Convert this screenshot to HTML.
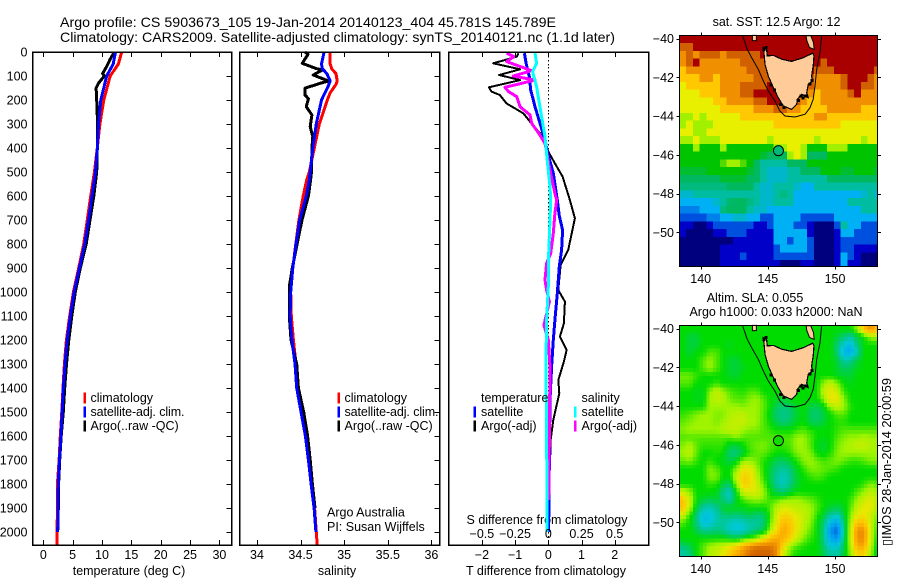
<!DOCTYPE html>
<html>
<head>
<meta charset="utf-8">
<title>Argo profile</title>
<style>
html,body{margin:0;padding:0;background:#fff;}
svg{display:block;}
text{font-family:"Liberation Sans",Arial,sans-serif;font-size:12.5px;fill:#000;}
.f{fill:none;stroke:#000;stroke-width:1.5;shape-rendering:crispEdges;}
.tk{stroke:#000;stroke-width:1;shape-rendering:crispEdges;}
</style>
</head>
<body>
<svg id="fig" xmlns="http://www.w3.org/2000/svg" width="900" height="580" viewBox="0 0 900 580">
<text x="60" y="27" style="font-size:14px" textLength="496" lengthAdjust="spacingAndGlyphs">Argo profile: CS 5903673_105 19-Jan-2014 20140123_404 45.781S 145.789E</text>
<text x="60" y="42" style="font-size:14px" textLength="555" lengthAdjust="spacingAndGlyphs">Climatology: CARS2009. Satellite-adjusted climatology: synTS_20140121.nc (1.1d later)</text>
<text x="129" y="575" text-anchor="middle">temperature (deg C)</text>
<text x="337" y="575" text-anchor="middle">salinity</text>
<text x="546" y="575" text-anchor="middle">T difference from climatology</text>
<text x="547" y="524" text-anchor="middle">S difference from climatology</text>
<text x="327" y="516.5">Argo Australia</text>
<text x="327" y="531">PI: Susan Wijffels</text>
<text x="776.5" y="26" text-anchor="middle">sat. SST: 12.5 Argo: 12</text>
<text x="755" y="302" text-anchor="middle">Altim. SLA: 0.055</text>
<text x="776" y="316" text-anchor="middle">Argo h1000: 0.033 h2000: NaN</text>
<text transform="translate(891,546) rotate(-90)" textLength="168" lengthAdjust="spacingAndGlyphs">▯IMOS 28-Jan-2014 20:00:59</text>
</svg>
<script>
/* ---------- depth-profile data ---------- */
const tClimDepth = [0,50,100,200,300,400,500,600,700,800,900,1000,1100,1200,1300,1400,1500,1600,1700,1800,1900,2000,2054];
const tClimVal = [13.35,12.8,11.4,10.3,9.65,9.2,8.7,8.07,7.5,6.88,6.03,5.12,4.49,3.93,3.59,3.35,3.15,2.9,2.7,2.4,2.45,2.3,2.3];
const tSatDepth = [0,50,100,200,300,400,500,600,700,800,900,1000,1100,1200,1300,1400,1500,1600,1700,1800,1900,2000];
const tSatVal = [12.3,11.9,10.8,9.8,9.4,9.2,8.9,8.3,7.7,7.05,6.15,5.25,4.6,4.05,3.7,3.4,3.2,3.0,2.75,2.55,2.5,2.45];
const tArgoDepth = [0,30,60,90,100,130,150,200,300,400,500,600,700,800,900,1000,1100,1200,1300,1400,1500,1600,1700,1800,1900,2000];
const tArgoVal = [12.1,11.4,10.8,10.1,10.4,9.4,9.0,9.1,9.25,9.2,9.1,8.6,7.95,7.3,6.3,5.45,4.85,4.35,3.95,3.65,3.4,3.05,2.8,2.6,2.55,2.45];

const sClimDepth = [0,50,70,90,120,135,170,200,250,300,400,500,533,600,700,800,900,1000,1100,1200,1300,1400,1500,1600,1700,1800,1900,2000,2054];
const sClimVal = [34.84,34.84,34.857,34.906,34.92,34.906,34.84,34.806,34.76,34.715,34.657,34.6,34.57,34.53,34.48,34.445,34.41,34.386,34.393,34.417,34.447,34.46,34.51,34.56,34.59,34.62,34.66,34.68,34.69];
const sSatDepth = [0,50,70,90,120,140,200,300,400,500,533,600,700,800,900,1000,1100,1200,1300,1400,1500,1600,1700,1800,1900,2000];
const sSatVal = [34.77,34.74,34.75,34.8,34.84,34.82,34.74,34.68,34.64,34.61,34.6,34.565,34.49,34.447,34.41,34.386,34.38,34.4,34.436,34.455,34.505,34.555,34.59,34.62,34.655,34.675];
const sArgoDepth = [0,10,47,69,75,96,121,131,151,179,194,228,262,311,353,400,500,533,600,700,800,900,978,1100,1200,1300,1400,1500,1600,1700,1800,1900];
const sArgoVal = [34.55,34.585,34.52,34.68,34.75,34.645,34.82,34.72,34.55,34.55,34.59,34.565,34.63,34.61,34.64,34.63,34.625,34.615,34.59,34.516,34.46,34.405,34.37,34.37,34.39,34.455,34.475,34.535,34.58,34.61,34.635,34.665];

const dtSatDepth = [5,47,103,158,228,297,367,415,505,617,683,742,825,894,1006,1117,1200,1311,1450,1728,2000];
const dtSatVal = [-0.72,-0.67,-0.57,-0.53,-0.4,-0.25,-0.1,-0.03,0.15,0.27,0.33,0.43,0.4,0.33,0.27,0.2,0.15,0.1,0.05,0.03,0.01];
const dtArgoDepth = [5,19,47,72,96,117,147,165,179,214,256,290,339,387,415,464,519,617,693,825,888,992,1040,1131,1186,1242,1290,1367,1422,1533,1617,1728];
const dtArgoVal = [-0.9,-0.95,-1.66,-0.85,-1.48,-0.85,-1.79,-1.71,-1.46,-1.26,-0.75,-0.55,-0.25,-0.07,0,0.2,0.43,0.65,0.8,0.6,0.37,0.3,0.5,0.47,0.35,0.55,0.47,0.3,0.33,0.15,0.07,0.05];
const dsSatDepth = [5,47,82,144,228,353,450,561,617,700,839,978,1117,1311,1589,2000];
const dsSatVal = [-0.1,-0.088,-0.118,-0.088,-0.063,-0.025,-0.008,0.0125,0.018,0.0125,0.003,0,-0.0125,-0.018,-0.0125,-0.008];
const dsArgoDepth = [5,19,40,78,100,117,147,165,186,228,262,297,346,381,492,589,617,672,755,839,880,950,992,1040,1103,1138,1200,1311,1589,1867];
const dsArgoVal = [-0.314,-0.259,-0.314,-0.125,-0.264,-0.1,-0.326,-0.3,-0.238,-0.213,-0.138,-0.125,-0.063,-0.025,0.0125,0.05,0.063,0.05,0.038,0.018,-0.0125,-0.025,-0.0125,0.008,-0.018,-0.033,0,0.0125,0.008,0.003];

/* ---------- tick labels ---------- */
const depthTicks = [0,100,200,300,400,500,600,700,800,900,1000,1100,1200,1300,1400,1500,1600,1700,1800,1900,2000];
const tempTicks = [0,5,10,15,20,25,30];
const salTicks = [34,34.5,35,35.5,36];
const dtTicks = [-2,-1,0,1,2];
const dsTicks = [-0.5,-0.25,0,0.25,0.5];
const lonTicks = [140,145,150];
const latTicks = [-40,-42,-44,-46,-48,-50];

/* ---------- map data: colour level per 0.5 x 0.4 deg cell, north to south ---------- */
const sstGrid = [
[12,12,12,12,12,12,12,12,12,12,12,12,12,12,12,12,12,12,12,12,12,12,12,12,12,12,12,12,12,12],
[11,11,12,12,12,12,12,12,12,12,12,12,12,12,12,12,12,12,12,12,12,12,12,12,12,12,12,12,12,12],
[10,11,10,11,11,11,10,11,11,11,11,11,12,12,12,12,12,12,12,12,12,12,12,12,12,12,12,12,12,12],
[10,11,12,10,10,10,10,10,10,11,11,11,11,12,12,12,12,12,12,12,12,11,12,12,12,12,12,12,12,12],
[9,10,10,10,10,10,10,10,10,10,11,11,11,11,12,12,12,12,12,12,11,11,11,12,12,12,12,12,12,11],
[9,9,9,10,10,9,10,10,10,10,10,11,11,11,12,12,12,12,12,11,10,10,10,10,11,12,12,12,11,10],
[8,9,9,9,9,9,10,10,10,11,11,11,11,12,12,12,12,12,11,11,10,10,10,10,11,12,12,11,11,10],
[8,8,8,9,9,9,10,10,10,11,11,12,12,12,12,12,12,12,11,10,9,10,10,10,10,11,12,10,10,10],
[8,8,8,8,8,9,9,10,10,10,10,11,11,12,12,12,12,11,10,9,9,10,10,10,10,10,10,10,10,10],
[8,8,8,8,8,8,9,9,9,9,9,10,10,10,11,11,10,10,9,9,9,9,10,10,10,10,10,9,9,9],
[7,7,8,7,8,8,8,8,8,9,9,9,9,9,9,9,9,9,9,9,10,10,9,9,9,9,9,9,9,9],
[7,8,7,7,7,8,8,8,8,8,8,8,8,8,9,9,9,9,9,9,9,9,9,9,8,8,8,8,8,8],
[8,8,7,7,8,8,8,8,8,8,8,8,8,8,8,8,8,8,8,8,8,8,8,8,8,8,8,8,8,8],
[7,7,8,7,7,7,8,8,8,8,8,8,8,7,8,8,8,8,8,8,7,8,8,8,8,8,8,7,8,8],
[6,6,7,6,6,6,7,6,6,6,6,6,6,6,7,7,8,8,7,6,6,6,7,7,7,6,6,6,6,6],
[6,6,6,6,6,6,6,6,6,6,6,6,5.5,5,5,5,7,8,7,5,5,5,6,6,6,6,6,6,6,6],
[6,6,6,6,6,6,6.5,7,7,6.5,6,5,4,4,4,4,5,5,5,6,6,6,6,6,6,6,6,6,6,6],
[5.5,5.5,5.5,5.5,6,6,6,6,6,6,5.5,5,4,3.5,3.5,3.5,4,4,5,5,5,6,6,6,5.5,5.5,6,6,6,5.5],
[5,5,5,5,5,5,5.5,5.5,5.5,5.5,5,5,4,3.5,3.5,3.5,4,4,4,4,4,4,5,5,5,5,5,5,5,5],
[4.5,4.5,4.5,4.5,4.5,4.5,4.5,5,5,5,5,4,3.5,3.5,4,4,4,3.5,3,3,4,4,4,4,4,4,4,4,4,4],
[3.5,3.5,4,4,4,4,4,4,4,4,4,4,3.5,3.5,4,4.5,4,3,3,3,3,3,3,3,3,3,3,3.5,4,3.5],
[3,3,3,3,3,3.5,4,4.8,5,5,4.5,4,3.5,3.5,4,4,4,3,3,3,3,3,3,3,3,4,4,4,4,4],
[2.5,2.5,2.5,3,3,3,4.5,5,5,5,4,3.5,3.5,3,3,3,3,3,3,3,3,3,3,3,3,3,3,4,4,4],
[2,2,2,2,2.5,2.5,3,3,3.5,3.5,3,3,2,2,3,3,3,3,2,2,2,2,2,3,3,3,3,3,3,3],
[1,1,0,0,1,2,2,2,2,2,2,1,1,2,3,3,3,2,2,1,0,0,0,2,4,3,3,2,2,2],
[1,0,0,0,0,1,1,2,2,2,1,1,1,1,3,3,3,3,3,1,0,0,0,1,3,3,2,2,2,2],
[0,0,0,0,0,0,0,0,1,1,1,1,1,1,3,3,2,3,3,2,0,0,0,1,2,2,2,2,2,2],
[0,0,0,0,0,0,1,1,1,1,1,1,1,1,2,3,3,3,3,2,0,0,0,1,2,2,1,1,1,1],
[0,0,0,0,0,0,1,1,1,2,1,1,1,1,2,2,2,2,2,2,0,0,0,1,3,2,1,0,0,0],
[0,0,0,0,0,0,1,1,1,1,1,1,1,1,1,0,0,0,1,1,0,0,0,1,3,1,1,0,0,0]
];
const slaGrid = [
[6,6,6,6,6,6,6,6,6,6,6,6,6,6,6,6,6,6,6,6,6,6,6,6,6,6,7,9,10,9],
[6,5.5,5.5,6,6,6,6,6,6,6,6,6,6,6,6,6,6,6,6,6,6,6,6,5.5,5,4.5,5.5,6,7,7],
[6,5.5,5.5,6,6,6,6,5.7,6,6,6,6,6,6,6,6,6,6,6,6,6,6,6,5,4,3.5,5,6,6,6],
[6,5.5,6,6,6.5,6.5,6,6,6,6,6,6,6,6,6,6,6,6,6,6,6,6,6,5,3.5,3.2,4.5,6,6,6],
[6,6,6,6.5,7,6.5,6,5.6,5.5,6,6,6,6,6,6,6,6,6,6,6,6,6,6,5.5,4.5,4.8,5.5,6,6,6],
[6,6,6,6.5,7,6.5,6,5.6,5.5,5.8,6,6,6,6,6,6,6,6,6,6,6,6,6,5.6,5.2,5.3,5.8,6,6,6],
[6.7,6.7,6.3,6,6,6,6,5.7,5.6,6,6,6,6,6,6,6,6,6,6,6,6,6,6,5.8,5.6,5.6,6,6,6,6],
[6.5,6.5,6,6,6,6.3,6,6,6,6,6,6,6,6,6,6,6,6,6,6,6,7,7.5,6.8,6,5.8,6,6,6,6],
[6,6,5.8,5.8,6.8,7.5,7,6.5,6.3,6.2,6.5,6.5,6,6,6,6,6,6,6,6,6,7.5,8,7.5,6.3,6,6,6,6,6],
[6,6,5.8,5.8,7,7.5,7.2,6.7,6.5,6.5,6.8,7,6.5,6,5.8,5.6,5.8,6,6,6,6,7,8.2,8,6.8,6,6,6,6,6],
[6,6,6,6,7,7,7,7,7,6.8,7,7,6.6,6,5.2,5,5.2,5.8,6,5.4,5.3,5.8,7,7.5,7,6.2,6,6,6,6],
[6.3,6.5,6.8,7,7,6.8,6.8,7.2,7.4,7.4,7,7,6.5,5.8,5,4.8,5,5.6,6,5.2,5,5.5,6,6.5,6.5,6,6,6,6,6],
[6.6,6.8,7,7,7,6.8,7,7.4,7.5,7.5,7.2,7,6.5,6,5.3,5,5.3,5.8,6,5.4,5.2,5.6,6,6.2,6.2,6,6,6,6,6],
[6.8,7,7,7,7,7,7.2,7.4,7.4,7,6.8,6.8,6.5,6.3,6,6,6,6.3,6.5,6.2,6,6,6,6.3,6.5,6.5,6.5,6.5,6.5,6.5],
[6.5,6.5,6.5,6.5,6.5,6.5,6.5,6.5,6.8,6.5,6.5,6.5,6.5,6.5,6.5,6.5,6.5,7,7,6.5,6,5.9,6,6.5,6.8,7,7,7.2,7,7],
[6.8,7.2,6.6,6.3,6.3,6.3,6.3,5.6,5.5,6,6.5,6.7,6.8,6.5,6.3,6.3,6.5,7,7,6.5,5.8,5.6,6,6.7,7,7.2,7.5,7.5,7.2,7],
[7,7.4,6.6,6,6,6.2,6,5,4.9,5.6,6.3,6.6,6.6,6.3,6,6,6.3,6.8,7,6.8,6,5.8,6.2,6.8,7,7,7,7,7,7],
[6.6,6.8,6.3,6,6.3,6,5.8,5.4,5.8,7,7,6.7,6.2,5.8,5.3,5.2,5.6,6.2,6.8,7,6.7,6.4,6.6,6.8,6.6,6.3,6.3,6.5,6.8,6.8],
[6,6,6,6,6.8,6.5,6,6,6.8,8,8,7,6.2,5.5,4.9,4.7,5,5.8,6.3,6.8,6.8,6.6,6.5,6.3,6,6,6,6,6,6],
[6,6,6,6,6.8,6.8,6,6,7.5,8.7,8.4,7.3,6.3,5.4,4.6,4.2,4.8,5.6,6,6.3,6.5,6.3,6,6,6,6,6,6,6,6],
[6,6,6,6,6.3,6.2,5.5,5.2,7,8.7,8.4,7.6,6.6,5.6,4.6,4.3,4.9,5.6,6,6,6,6,6,6,6,6,6,6.3,6.8,6.5],
[7.5,7,6,6,6,5.8,4.8,4.2,6,7.6,7.8,7.8,7,6,5.3,5,5.6,6,6,6,6,6,6,6,6,6,6.5,7,7.4,7],
[9,7.5,6,5.6,5.4,5.6,5,4.3,5.8,6.5,6.8,7,6.8,6.3,6.5,6.8,7,7,6.8,6.6,6.3,6,6,6,6,6.3,7,7.6,7.8,7.4],
[9,7.4,5.6,4.6,4.3,4.8,5.6,5.8,5.8,5.8,6,6,6,6.5,7.3,7.8,7.6,7.4,7.3,7,6.5,6,5.6,5.4,5.8,6.5,7.5,8,8,7.2],
[7.5,6.4,5,3.8,3.8,4.4,5,5.2,5,5.2,5.4,5,5.2,6.3,7.8,8.5,8.3,7.8,7.5,7,6.3,5.5,4.6,4.3,5.5,6.8,8,8.2,7.5,6.8],
[6.5,6,5,3.8,3.9,4.5,4.6,4.2,4,4.2,4.6,4.5,5,6.5,8,9.2,8.8,8,7.5,6.8,6,5,3.5,3,5,7.3,9,9,7.5,6.5],
[6,6,5.4,4.8,4.8,5,4.8,4.2,4,4.1,4.6,5,5.4,7,8.5,9.5,9,8,7.2,6.6,6,4.8,2.8,2.2,4.8,7.5,10,10,7.5,6.3],
[6,6,6,6,6,6,6,5.8,5.5,6,6.5,7,8,9,9.5,9.3,8.5,7.5,6.8,6.3,6,4.8,3.2,2.8,5,7.5,10,10,7.5,6],
[5,5.4,6,6.5,7,7.3,7.5,8,8.5,9.5,10,10.5,10.5,10.5,10,8.5,7,6.5,6.2,6,6,5,4,4,5.3,7.3,9.5,9.5,7.3,5.8],
[4.5,4.8,6,6.5,7.2,7.5,8,8.8,9.5,10,10.8,11,11,11,10,7.5,6.5,6,6,6,6,5.4,4.6,4.6,5.5,7,8.5,8.5,7,5.6]
];
/* coastline and 200 m isobath, lon / lat */
const tasLon = [144.71,144.66,144.91,144.96,145.41,146.03,146.77,147.64,148.34,148.44,148.38,148.26,148.34,148.01,147.89,148.01,147.52,147.19,147.15,146.77,146.15,145.78,145.41,145.03,144.79];
const tasLat = [-40.75,-40.46,-40.55,-40.89,-40.86,-41.06,-41.17,-40.98,-40.75,-40.89,-41.41,-41.93,-42.18,-42.35,-42.79,-43.05,-42.87,-43.13,-43.39,-43.65,-43.47,-43.05,-42.53,-41.93,-41.32];
const kingLon = [143.85,144.15,144.15,143.85];
const kingLat = [-39.83,-39.83,-40.1,-40.1];
const flindersLon = [147.85,148.2,148.4,148.45,148.1,147.9];
const flindersLat = [-39.85,-39.85,-40.2,-40.55,-40.45,-40.1];
const shelfLon = [143.13,143.47,143.8,144.29,144.66,145.03,145.53,145.9,146.28,147.02,147.77,148.14,148.38,148.51,148.64,148.88,149.0];
const shelfLat = [-39.86,-40.55,-40.98,-41.58,-42.18,-42.7,-43.22,-43.73,-43.99,-44.04,-43.9,-43.56,-43.13,-42.44,-41.58,-40.72,-39.86];
const rockLon = [144.7,144.85,147.45,147.6,147.8,147.3,146.2,145.95,148.3,148.15,145.5,145.25];
const rockLat = [-40.55,-40.45,-42.95,-43.05,-42.95,-43.2,-43.55,-43.4,-42.15,-42.35,-42.65,-42.4];
const argoLon = 145.789;
const argoLat = -45.781;
const argoSstLevel = 4.6;
const argoSlaLevel = 6.1;

/* ---------- axis functions ---------- */
const depthY = d => 52 + d * 0.24;
const tempX = v => 43.3 + v * 5.87;
const salX = v => 257 + (v - 34) * 87.2;
const dtX = v => 548.3 + v * 33.2;
const dsX = v => 548.3 + v * 132.8;
const lonX = v => 700.7 + (v - 140) * 13.43;
const latY0 = v => 38.7 + (-40 - v) * 19.37;
const latY1 = v => 328.7 + (-40 - v) * 19.37;

/* palettes: colour stop for each integer level */
const sstStops = ['#00007f','#0000c8','#0050e0','#00b0f4','#00bca0','#00b860','#00c400','#a0f000','#e8f000','#ffc800','#f09000','#d06000','#a80000'];
const slaStops = ['#00007f','#0000c8','#0050e0','#00a0f0','#00c8d8','#00c878','#00dc00','#a0f400','#e8e800','#ffc000','#f09000','#d06000','#a80000'];
function colorOf(level, stops){
  const l = Math.max(0, Math.min(12, level));
  const i = Math.min(11, Math.floor(l));
  const t = l - i;
  const a = parseInt(stops[i].slice(1),16), b = parseInt(stops[i+1].slice(1),16);
  const ch = s => Math.round(((a>>s)&255)*(1-t) + ((b>>s)&255)*t);
  return 'rgb(' + ch(16) + ',' + ch(8) + ',' + ch(0) + ')';
}

const svg = document.getElementById('fig');
const NS = 'http://www.w3.org/2000/svg';
function mk(tag, props, parent){
  const el = document.createElementNS(NS, tag);
  for (const k in props) el.setAttribute(k, props[k]);
  (parent || svg).appendChild(el);
  return el;
}
function label(txt, x, y, anchor){
  const el = mk('text', {x:x, y:y, 'text-anchor':anchor||'middle'});
  el.textContent = txt;
  return el;
}
function profile(xFn, depths, vals, color, w){
  const pts = depths.map((d,i) => xFn(vals[i]).toFixed(1) + ',' + depthY(d).toFixed(1)).join(' ');
  return mk('polyline', {points:pts, fill:'none', stroke:color, 'stroke-width':w, 'stroke-linejoin':'round', 'shape-rendering':'crispEdges'});
}
function tick(x1,y1,x2,y2){
  return mk('line', {x1:x1, y1:y1, x2:x2, y2:y2, 'class':'tk'});
}

/* ---------- panels ---------- */
const panels = [
  {name:'temperature', l:32.5, r:231.5, xFn:tempX, ticks:tempTicks, yRight:true},
  {name:'salinity', l:239.5, r:439.5, xFn:salX, ticks:salTicks, yRight:true},
  {name:'difference', l:448.5, r:648.5, xFn:dtX, ticks:dtTicks, yRight:false}
];
const panelTop = 52, panelBottom = 545;

// zero line of the difference panel
for (let d = 0; d < 2054; d += 16) {
  const z = mk('rect', {x:Math.round(dtX(0)), y:Math.round(depthY(d)), width:1, height:1.5, fill:'#000'});
  
  
}

let ln;
ln = profile(tempX, tClimDepth, tClimVal, '#f00', 3);


ln = profile(tempX, tArgoDepth, tArgoVal, '#000', 3);


ln = profile(tempX, tSatDepth, tSatVal, '#00f', 3);



ln = profile(salX, sClimDepth, sClimVal, '#f00', 3);


ln = profile(salX, sArgoDepth, sArgoVal, '#000', 3);


ln = profile(salX, sSatDepth, sSatVal, '#00f', 3);



ln = profile(dtX, dtArgoDepth, dtArgoVal, '#000', 2);


ln = profile(dtX, dtSatDepth, dtSatVal, '#00f', 3);


ln = profile(dsX, dsArgoDepth, dsArgoVal, '#f0f', 3);


ln = profile(dsX, dsSatDepth, dsSatVal, '#0ff', 3);



panels.forEach(p => {
  const fr = mk('rect', {x:p.l, y:panelTop, width:p.r-p.l, height:panelBottom-panelTop, 'class':'f'});
  
  
  p.ticks.forEach(v => {
    const x = Math.round(p.xFn(v)) + 0.5;
    const t1 = tick(x, panelTop, x, panelTop + 5);
    
    
    const t2 = tick(x, panelBottom - 5, x, panelBottom);
    
    
    const lb = label(String(v).replace('-', '\u2212'), p.xFn(v), 559);
    
    
  });
  if (p.yRight) depthTicks.forEach(d => {
    const y = Math.round(depthY(d)) + 0.5;
    const t = tick(p.r - 5, y, p.r, y);
    
    
  });
});
depthTicks.forEach(d => {
  const lb = label(String(d), 27.5, depthY(d) + 4.5, 'end');
  
  
});
dsTicks.forEach(v => {
  const lb = label(String(v).replace('-', '\u2212'), dsX(v), 538);
  
  
});

/* ---------- legends ---------- */
const legendY = [402, 416, 430];
const legA = ['climatology','satellite-adj. clim.','Argo(..raw -QC)'];
const legAColors = ['#f00','#00f','#000'];
[84, 338].forEach((x, k) => {
  legA.forEach((s, i) => {
    const b = mk('rect', {x:x-0.5, y:legendY[i]-9.5, width:2.5, height:11, fill:legAColors[i]});
    
    
    const t = label(s, x + 6.5, legendY[i], 'start');
    
    
    if (i === 1) t.setAttribute('textLength', '94');
  });
});
const legB = [['temperature',481,null,0],['satellite',481,'#00f',1],['Argo(-adj)',481,'#000',2],['salinity',581.5,null,0],['satellite',581.5,'#0ff',1],['Argo(-adj)',581.5,'#f0f',2]];
legB.forEach(e => {
  const t = label(e[0], e[1], legendY[e[3]], 'start');
  
  
  if (e[2]) {
    const b = mk('rect', {x:e[1]-7.5, y:legendY[e[3]]-9.5, width:2.5, height:11, fill:e[2]});
    
    
  }
});

/* ---------- maps ---------- */
const polyPts = (lons, lats, yFn) => lons.map((v,i) => lonX(v).toFixed(1) + ',' + yFn(lats[i]).toFixed(1)).join(' ');
function sampleGrid(grid, u, v){
  const rows = grid.length, cols = grid[0].length;
  const cu = Math.max(0, Math.min(cols - 1.001, u)), cv = Math.max(0, Math.min(rows - 1.001, v));
  const i = Math.floor(cu), j = Math.floor(cv), fu = cu - i, fv = cv - j;
  return (grid[j][i]*(1-fu) + grid[j][i+1]*fu)*(1-fv) + (grid[j+1][i]*(1-fu) + grid[j+1][i+1]*fu)*fv;
}
function drawMap(grid, stops, sub, yFn, top, bottom, argoLevel, prefix){
  const lonStart = 138.42, latStart = -39.83, dLon = 0.5/sub, dLat = 0.4/sub;
  const nr = grid.length*sub, nc = grid[0].length*sub;
  for (let j = 0; j < nr; j++) for (let i = 0; i < nc; i++) {
    const val = sub === 1 ? grid[j][i] : sampleGrid(grid, (i+0.5)/sub-0.5, (j+0.5)/sub-0.5);
    const x0 = lonX(lonStart + i*dLon), x1 = lonX(lonStart + (i+1)*dLon);
    const y0 = yFn(latStart - j*dLat), y1 = yFn(latStart - (j+1)*dLat);
    const c = mk('rect', {x:x0, y:y0, width:Math.min(x1,877.5)-x0+0.4, height:Math.min(y1,bottom)-y0+0.4, fill:colorOf(val, stops), 'shape-rendering':'crispEdges'});
    
    
  }
  const shelf = mk('polyline', {points:polyPts(shelfLon, shelfLat, yFn), fill:'none', stroke:'#000', 'stroke-width':1});
  
  
  const tas = mk('polygon', {points:polyPts(tasLon, tasLat, yFn), fill:'#ffcc99', stroke:'#000', 'stroke-width':1.2, 'shape-rendering':'crispEdges'});
  
  
  const king = mk('polygon', {points:polyPts(kingLon, kingLat, yFn), fill:'#ffcc99', stroke:'#000', 'stroke-width':1});
  
  
  const fl = mk('polygon', {points:polyPts(flindersLon, flindersLat, yFn), fill:'#ffcc99', stroke:'#000', 'stroke-width':1});
  
  
  rockLon.forEach((v, i) => {
    const r = mk('rect', {x:lonX(v)-1.5, y:yFn(rockLat[i])-1.5, width:3, height:3, fill:'#000', 'shape-rendering':'crispEdges'});
    
    
  });
  const pt = mk('circle', {cx:lonX(argoLon), cy:yFn(argoLat), r:5, fill:colorOf(argoLevel, stops), stroke:'#000', 'stroke-width':1});
  
  
  const fr = mk('rect', {x:679.5, y:top, width:198, height:bottom-top, 'class':'f', style:'stroke-width:1.2'});
  
  
  lonTicks.forEach(v => {
    const x = Math.round(lonX(v)) + 0.5;
    const t1 = tick(x, top - 3, x, top);
    
    
    const t2 = tick(x, bottom, x, bottom + 3);
    
    
    const lb = label(String(v), lonX(v), bottom + 16.5);
    
    
  });
  latTicks.forEach(v => {
    const y = Math.round(yFn(v)) + 0.5;
    const t1 = tick(676.5, y, 679.5, y);
    
    
    const t2 = tick(877.5, y, 881, y);
    
    
    const lb = label(String(v).replace('-', '\u2212'), 674, yFn(v) + 4.5, 'end');
    
    
  });
}
drawMap(sstGrid, sstStops, 1, latY0, 35.5, 266.5, argoSstLevel, 'sst');
drawMap(slaGrid, slaStops, 2, latY1, 325.5, 556.5, argoSlaLevel, 'sla');
</script>
</body>
</html>
